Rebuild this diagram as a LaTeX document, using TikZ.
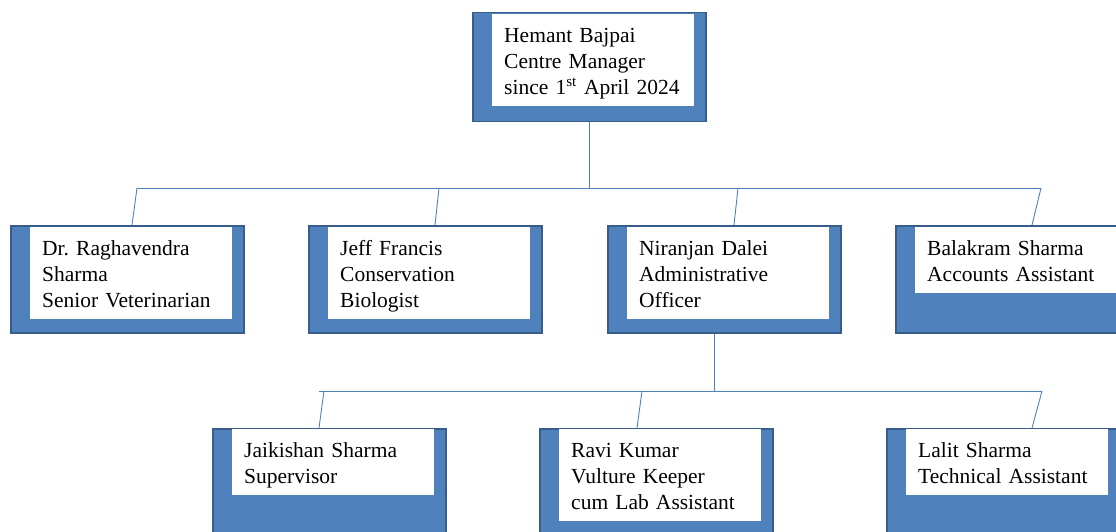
\documentclass[tikz,border=0pt]{standalone}
\usepackage{fontspec}
\setmainfont{Liberation Serif}
\usetikzlibrary{positioning}
\definecolor{wordblue}{HTML}{4F81BD}
\definecolor{wordedge}{HTML}{385D8A}
\frenchspacing
\tikzset{
  staffbox/.style={draw=wordedge, line width=1.5pt, fill=wordblue, minimum width=233pt,
    minimum height=107pt, inner sep=0pt, anchor=north west},
  namecard/.style={fill=white, inner xsep=12pt, inner ysep=4pt, text width=178pt, align=left,
    font=\fontsize{21.5}{26}\selectfont, execute at begin node={\rule{0pt}{24pt}},
    execute at end node={\strut}},
  link/.style={draw=wordblue, line width=0.9pt},
}
\begin{document}
\begin{tikzpicture}[x=1pt, y=-1pt]
\useasboundingbox (0,0) rectangle (1116,532);
\clip (0,0) rectangle (1116,532);

% centre manager
\node[staffbox, minimum height=109pt] (mgr) at (472,12) {};
\node[namecard, below right=2pt and 20pt of mgr.north west] (mgr-card)
  {Hemant Bajpai\\Centre Manager\\since 1\textsuperscript{st} April 2024};

% first level
\node[staffbox] (vet) at (10,225) {};
\node[namecard, below right=2pt and 20pt of vet.north west] (vet-card)
  {Dr. Raghavendra\\Sharma\\Senior Veterinarian};
\node[staffbox] (bio) at (308,225) {};
\node[namecard, below right=2pt and 20pt of bio.north west] (bio-card)
  {Jeff Francis\\Conservation\\Biologist};
\node[staffbox] (adm) at (607,225) {};
\node[namecard, below right=2pt and 20pt of adm.north west] (adm-card)
  {Niranjan Dalei\\Administrative\\Officer};
\node[staffbox] (acc) at (895,225) {};
\node[namecard, below right=2pt and 20pt of acc.north west] (acc-card)
  {Balakram Sharma\\Accounts Assistant};

% second level
\node[staffbox] (sup) at (212,428) {};
\node[namecard, below right=1pt and 20pt of sup.north west] (sup-card)
  {Jaikishan Sharma\\Supervisor};
\node[staffbox] (kpr) at (539,428) {};
\node[namecard, below right=1pt and 20pt of kpr.north west] (kpr-card)
  {Ravi Kumar\\Vulture Keeper\\cum Lab Assistant};
\node[staffbox] (tech) at (886,428) {};
\node[namecard, below right=1pt and 20pt of tech.north west] (tech-card)
  {Lalit Sharma\\Technical Assistant};

% connectors
\coordinate (bar1w) at (137,188);
\coordinate (bar1e) at (1041,188);
\coordinate (tap2) at (439,188);
\coordinate (tap3) at (738,188);
\draw[link] (mgr.south) -- (mgr.south |- bar1w);
\draw[link] (bar1w) -- (bar1e);
\draw[link] (bar1w) -- ([xshift=122pt]vet.north west);
\draw[link] (tap2) -- ([xshift=127pt]bio.north west);
\draw[link] (tap3) -- ([xshift=127pt]adm.north west);
\draw[link] (bar1e) -- ([xshift=137pt]acc.north west);

\coordinate (admdrop) at ([xshift=107pt]adm.south west);
\coordinate (bar2w) at (319,391);
\coordinate (bar2e) at (1042,391);
\coordinate (tap5) at (324,391);
\coordinate (tap6) at (642,391);
\draw[link] (admdrop) -- (admdrop |- bar2w);
\draw[link] (bar2w) -- (bar2e);
\draw[link] (tap5) -- ([xshift=107pt]sup.north west);
\draw[link] (tap6) -- ([xshift=98pt]kpr.north west);
\draw[link] (bar2e) -- ([xshift=146pt]tech.north west);
\end{tikzpicture}
\end{document}
